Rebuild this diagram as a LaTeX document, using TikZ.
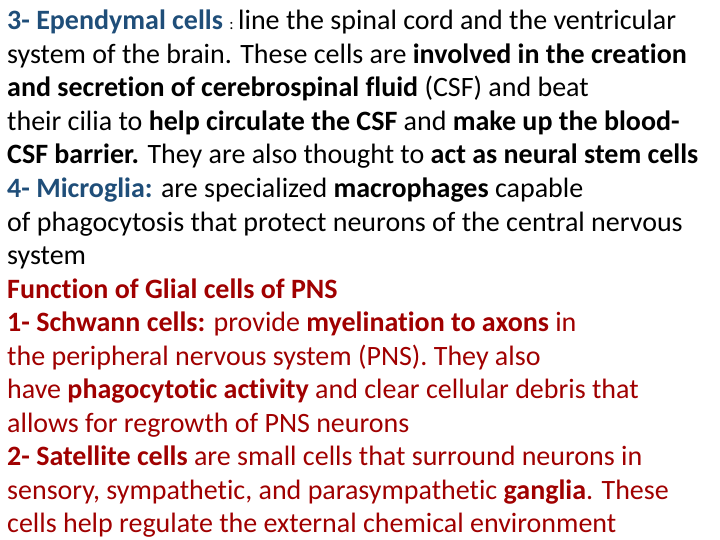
\documentclass[tikz,border=0pt]{standalone}
\usepackage{fontspec}
\setmainfont[RawFeature=-liga]{Carlito}
\definecolor{dblue}{HTML}{1F4E79}
\definecolor{dred}{HTML}{A00000}
\begin{document}
\begin{tikzpicture}[x=1pt,y=-1pt,
  ln/.style={anchor=base west,inner sep=0pt,font=\fontsize{28}{32}\selectfont}]
\useasboundingbox (0,0) rectangle (720,540);
\node[ln] (l1) at (7,30) {\textbf{\color{dblue}3- Ependymal cells} {\fontsize{16}{18}\selectfont:}\,line the spinal cord and the ventricular};
\node[ln] (l2) at (7,63.5) {system of the brain. These cells are \textbf{involved in the creation}};
\node[ln] (l3) at (7,97) {\textbf{and secretion of cerebrospinal fluid} (CSF) and beat};
\node[ln] (l4) at (7,130.5) {their cilia to \textbf{help circulate the CSF} and \textbf{make up the blood-}};
\node[ln] (l5) at (7,164) {\textbf{CSF barrier.} They are also thought to \textbf{act as neural stem cells}};
\node[ln] (l6) at (7,197.5) {\textbf{\color{dblue}4- Microglia:} are specialized \textbf{macrophages} capable};
\node[ln] (l7) at (7,231) {of phagocytosis that protect neurons of the central nervous};
\node[ln] (l8) at (7,264.5) {system};
\begin{scope}[every node/.append style={text=dred}]
\node[ln] (l9) at (7,298) {\textbf{Function of Glial cells of PNS}};
\node[ln] (l10) at (7,331.5) {\textbf{1- Schwann cells:} provide \textbf{myelination to axons} in};
\node[ln] (l11) at (7,365) {the peripheral nervous system (PNS). They also};
\node[ln] (l12) at (7,398.5) {have \textbf{phagocytotic activity} and clear cellular debris that};
\node[ln] (l13) at (7,432) {allows for regrowth of PNS neurons};
\node[ln] (l14) at (7,465.5) {\textbf{2- Satellite cells} are small cells that surround neurons in};
\node[ln] (l15) at (7,499) {sensory, sympathetic, and parasympathetic \textbf{ganglia}. These};
\node[ln] (l16) at (7,532.5) {cells help regulate the external chemical environment};
\end{scope}
\end{tikzpicture}
\end{document}
